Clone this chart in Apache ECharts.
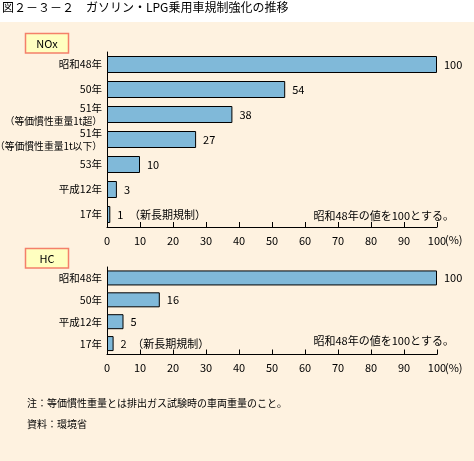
<!DOCTYPE html>
<html><head><meta charset="utf-8">
<script src="https://cdn.jsdelivr.net/npm/echarts@6/dist/echarts.min.js"></script>
<style>html,body{margin:0;padding:0;background:#fff}#c{width:474px;height:461px}</style>
</head><body><div id="c"></div>
<script>
var noxCategories = ['昭和48年', '50年', '51年\n（等価慣性重量1t超）', '51年\n（等価慣性重量1t以下）', '53年', '平成12年', '17年'];
var noxValues = [100, 54, 38, 27, 10, 3, 1];
var hcCategories = ['昭和48年', '50年', '平成12年', '17年'];
var hcValues = [100, 16, 5, 2];
var xTicks = [0, 10, 20, 30, 40, 50, 60, 70, 80, 90, 100];

var FONT = '"Noto Sans CJK JP", sans-serif';
var chart = echarts.init(document.getElementById('c'), null, {renderer: 'canvas'});

function xAxisFor(gi) {
  return {
    gridIndex: gi, type: 'value', min: xTicks[0], max: xTicks[xTicks.length - 1], interval: xTicks[1] - xTicks[0],
    axisLine: {show: true, lineStyle: {color: '#000', width: 1}},
    axisTick: {show: true, inside: true, length: 5, lineStyle: {color: '#000'}},
    axisLabel: {color: '#000', fontSize: 11, fontFamily: FONT, margin: 8},
    splitLine: {show: false}
  };
}
function yAxisFor(gi, cats) {
  return {
    gridIndex: gi, type: 'category', data: cats, inverse: true,
    axisLine: {show: true, lineStyle: {color: '#000', width: 1}},
    axisTick: {show: false},
    axisLabel: {
      color: '#000', fontSize: 10.5, fontFamily: FONT, margin: 5, lineHeight: 13, align: 'right',
      formatter: function (v) {
        var parts = v.split('\n');
        if (parts.length === 1) return v;
        return parts[0] + '\n{s|' + parts[1] + '}';
      },
      rich: {s: {fontSize: 9.8, fontFamily: FONT, color: '#000', lineHeight: 13, align: 'right'}}
    }
  };
}
function seriesFor(gi, vals, bw) {
  var last = vals.length - 1;
  return {
    type: 'bar', xAxisIndex: gi, yAxisIndex: gi, data: vals, barWidth: bw,
    itemStyle: {color: '#80b9d9', borderColor: '#000', borderWidth: 1},
    label: {
      show: true, position: 'right', distance: 7, color: '#000', fontSize: 11, fontFamily: FONT,
      formatter: function (p) { return p.dataIndex === last ? p.value + '　（新長期規制）' : String(p.value); }
    },
    silent: true, animation: false
  };
}

var note = '昭和48年の値を100とする。';
chart.setOption({
  backgroundColor: '#fff',
  animation: false,
  grid: [
    {left: 107, width: 330, top: 52, height: 175, containLabel: false, outerBoundsMode: 'none'},
    {left: 107, width: 330, top: 267, height: 87.5, containLabel: false, outerBoundsMode: 'none'}
  ],
  xAxis: [xAxisFor(0), xAxisFor(1)],
  yAxis: [yAxisFor(0, noxCategories), yAxisFor(1, hcCategories)],
  series: [seriesFor(0, noxValues, 17), seriesFor(1, hcValues, 15)],
  graphic: [
    {type: 'rect', z: -10, shape: {x: 0, y: 22, width: 474, height: 439}, style: {fill: '#fef2e0'}, silent: true},
    {type: 'text', left: 2, top: 1, style: {text: '図２－３－２　ガソリン・LPG乗用車規制強化の推移', fill: '#000', font: '12px ' + FONT}},
    {type: 'rect', shape: {x: 25.5, y: 33.5, width: 43, height: 19.5}, style: {fill: '#ffffc0', stroke: '#f4806a', lineWidth: 1.5}},
    {type: 'text', x: 47, y: 44, style: {text: 'NOx', fill: '#000', font: '11px ' + FONT, align: 'center', verticalAlign: 'middle'}},
    {type: 'rect', shape: {x: 25.5, y: 248.5, width: 43, height: 19.5}, style: {fill: '#ffffc0', stroke: '#f4806a', lineWidth: 1.5}},
    {type: 'text', x: 47, y: 259, style: {text: 'HC', fill: '#000', font: '11px ' + FONT, align: 'center', verticalAlign: 'middle'}},
    {type: 'text', x: 454, y: 216, style: {text: note, fill: '#000', font: '11px ' + FONT, align: 'right', verticalAlign: 'middle'}},
    {type: 'text', x: 454, y: 341, style: {text: note, fill: '#000', font: '11px ' + FONT, align: 'right', verticalAlign: 'middle'}},
    {type: 'text', x: 445, y: 240, style: {text: '(%)', fill: '#000', font: '11px ' + FONT, align: 'left', verticalAlign: 'middle'}},
    {type: 'text', x: 445, y: 367.5, style: {text: '(%)', fill: '#000', font: '11px ' + FONT, align: 'left', verticalAlign: 'middle'}},
    {type: 'text', x: 27, y: 403, style: {text: '注：等価慣性重量とは排出ガス試験時の車両重量のこと。', fill: '#000', font: '10px ' + FONT, verticalAlign: 'middle'}},
    {type: 'text', x: 27, y: 424, style: {text: '資料：環境省', fill: '#000', font: '10px ' + FONT, verticalAlign: 'middle'}}
  ]
});
</script></body></html>
